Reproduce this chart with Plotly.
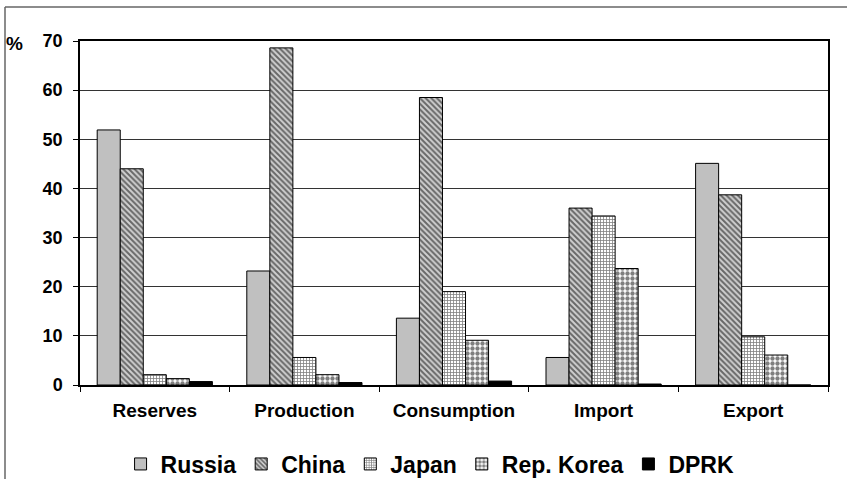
import plotly.graph_objects as go

categories = ["Reserves", "Production", "Consumption", "Import", "Export"]
series_names = ["Russia", "China", "Japan", "Rep. Korea", "DPRK"]
russia = [51.9, 23.2, 13.6, 5.6, 45.1]
china = [44.0, 68.6, 58.5, 36.0, 38.7]
japan = [2.1, 5.6, 19.0, 34.4, 9.8]
korea = [1.3, 2.1, 9.1, 23.7, 6.1]
dprk = [0.7, 0.5, 0.8, 0.2, 0.0]
y_ticks = [0, 10, 20, 30, 40, 50, 60, 70]

values = [russia, china, japan, korea, dprk]
patterns = [
    dict(shape="", bgcolor="#c0c0c0"),
    dict(shape="\\", fgcolor="black", bgcolor="#d0d0d0", size=4, solidity=0.5, fillmode="overlay"),
    dict(shape="+", fgcolor="black", bgcolor="white", size=3, solidity=0.45, fillmode="overlay"),
    dict(shape=".", fgcolor="black", bgcolor="white", size=5, solidity=0.6, fillmode="overlay"),
    dict(shape="", bgcolor="black"),
]
colors = ["#c0c0c0", "#d0d0d0", "white", "white", "black"]

font = "Liberation Sans, Arial, sans-serif"
fig = go.Figure()
for name, vals, pat, col in zip(series_names, values, patterns, colors):
    fig.add_trace(go.Bar(
        name=name, x=categories, y=vals,
        marker=dict(color=col, pattern=pat, line=dict(color="black", width=1)),
    ))

fig.update_layout(
    width=847, height=479,
    margin=dict(l=80, r=19, t=41, b=94, autoexpand=False),
    paper_bgcolor="white", plot_bgcolor="white",
    barmode="group", bargap=0.23, bargroupgap=0,
    font=dict(family=font, size=15, color="black"),
    showlegend=True,
    legend=dict(orientation="h", x=0.468, xanchor="center", y=(385 - 464) / 344, yanchor="middle",
                font=dict(family=font, size=23, color="black", weight="bold"),
                itemwidth=30, traceorder="normal", tracegroupgap=0),
)
fig.update_xaxes(
    showline=True, linecolor="black", linewidth=1.5, mirror=True,
    ticks="outside", tickson="boundaries", ticklen=5, tickcolor="black",
    tickfont=dict(family=font, size=19, weight="bold"),
    ticklabelstandoff=7,
    showgrid=False,
)
fig.update_yaxes(
    range=[0, 70], tickvals=y_ticks,
    showline=True, linecolor="black", linewidth=1.5, mirror=True,
    ticks="outside", ticklen=5, tickcolor="black",
    tickfont=dict(family=font, size=18, weight="bold"),
    ticklabelstandoff=7,
    showgrid=True, gridcolor="#333333", gridwidth=1,
    zeroline=False,
)
fig.add_annotation(text="<b>%</b>", xref="paper", yref="paper",
                   x=(14 - 80) / 748, y=(385 - 43) / 344, xanchor="center", yanchor="middle",
                   showarrow=False, font=dict(family=font, size=19, color="black"))
# outer frame (top and left edges)
fig.add_shape(type="line", xref="paper", yref="paper",
              x0=(5 - 80) / 748, x1=1.03, y0=(385 - 7) / 344, y1=(385 - 7) / 344,
              line=dict(color="#666666", width=1.5))
fig.add_shape(type="line", xref="paper", yref="paper",
              x0=(5 - 80) / 748, x1=(5 - 80) / 748, y0=(385 - 7) / 344, y1=-0.3,
              line=dict(color="#666666", width=1.5))

fig.write_html("out.html")
